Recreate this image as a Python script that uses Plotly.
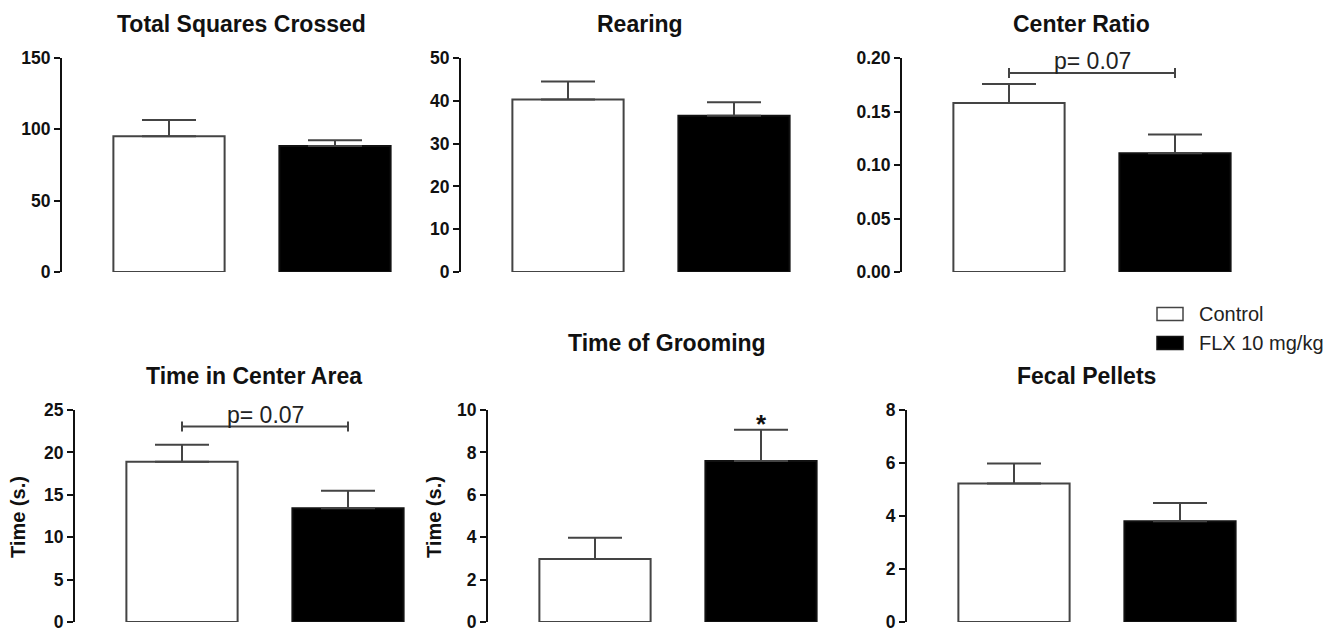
import plotly.graph_objects as go

# ---------------- data ----------------
titles = ["Total Squares Crossed", "Rearing", "Center Ratio",
          "Time in Center Area", "Time of Grooming", "Fecal Pellets"]
groups = ["Control", "FLX 10 mg/kg"]
control_mean = [95.1, 40.3, 0.158, 18.9, 2.97, 5.23]
control_sem = [11.4, 4.2, 0.0178, 2.0, 1.0, 0.75]
flx_mean = [88.3, 36.5, 0.111, 13.4, 7.6, 3.80]
flx_sem = [4.0, 3.15, 0.0175, 2.07, 1.47, 0.69]
y_max = [150, 50, 0.20, 25, 10, 8]
y_dtick = [50, 10, 0.05, 5, 2, 2]
y_format = ["", "", ".2f", "", "", ""]
y_titles = ["", "", "", "Time (s.)", "Time (s.)", ""]
sig_panels = [2, 3]
sig_labels = ["p= 0.07", "p= 0.07"]
sig_levels = [0.186, 23.05]
star_panels = [4]
star_labels = ["*"]

# ---------------- layout geometry (pixels) ----------------
W, H = 1336, 634
FONT = "Liberation Sans, Arial, Helvetica, sans-serif"
axis_px = [62, 461, 902, 75, 488, 907]
row_top = [58, 58, 58, 410, 410, 410]
row_bot = [272, 272, 272, 622, 622, 622]
title_y = [24, 24, 24, 376, 343, 376]
ylab_x = [0, 0, 0, 18, 434, 0]
ylab_y = 517
SPACING, OFFSET, RIGHT = 166, 107, 80
BAR_W = 0.67


def px(x):
    return x / W


def py(y):
    return 1 - y / H


fig = go.Figure()
annotations = []
shapes = []

for i in range(6):
    xa = "x" if i == 0 else f"x{i+1}"
    ya = "y" if i == 0 else f"y{i+1}"
    xkey = "xaxis" if i == 0 else f"xaxis{i+1}"
    ykey = "yaxis" if i == 0 else f"yaxis{i+1}"
    fig.add_trace(go.Bar(
        x=[0, 1], y=[control_mean[i], flx_mean[i]],
        width=BAR_W, xaxis=xa, yaxis=ya,
        marker=dict(color=["white", "black"],
                    line=dict(color=["#444444", "#111111"], width=2)),
        error_y=dict(type="data", symmetric=False,
                     array=[control_sem[i], flx_sem[i]], arrayminus=[0, 0],
                     width=27, thickness=2, color="#444444"),
        cliponaxis=False, showlegend=False, hoverinfo="y",
    ))
    a0 = axis_px[i]
    a1 = a0 + OFFSET + SPACING + RIGHT
    fig.layout[xkey] = dict(domain=[px(a0), px(a1)],
                            range=[-OFFSET / SPACING, 1 + RIGHT / SPACING],
                            visible=False, anchor=ya, fixedrange=True,
                            automargin=False)
    fig.layout[ykey] = dict(domain=[py(row_bot[i]), py(row_top[i])],
                            range=[0, y_max[i]], dtick=y_dtick[i], tick0=0,
                            tickformat=y_format[i], anchor=xa,
                            showline=True, linecolor="#111111", linewidth=2,
                            ticks="outside", ticklen=6, tickwidth=2,
                            tickcolor="#111111", showgrid=False, zeroline=False,
                            tickfont=dict(family=FONT, size=17.5, color="#111111",
                                          weight="bold"),
                            ticklabeloverflow="allow",
                            fixedrange=True, automargin=False)
    annotations.append(dict(text=titles[i], xref="paper", yref="paper",
                            x=px(a0 + 179), y=py(title_y[i]),
                            xanchor="center", yanchor="middle", showarrow=False,
                            font=dict(family=FONT, size=23, color="#111111",
                                      weight="bold")))
    if y_titles[i]:
        annotations.append(dict(text=y_titles[i], xref="paper", yref="paper",
                                x=px(ylab_x[i]), y=py(ylab_y), textangle=-90,
                                xanchor="center", yanchor="middle",
                                showarrow=False,
                                font=dict(family=FONT, size=20, color="#111111",
                                          weight="bold")))

for k, i in enumerate(sig_panels):
    xa = "x" if i == 0 else f"x{i+1}"
    ya = "y" if i == 0 else f"y{i+1}"
    lvl = sig_levels[k]
    shapes.append(dict(type="line", xref=xa, yref=ya, x0=0, x1=1, y0=lvl, y1=lvl,
                       line=dict(color="#444444", width=2)))
    for xe in (0, 1):
        shapes.append(dict(type="line", xref=xa, yref=ya, x0=xe, x1=xe,
                           ysizemode="pixel", yanchor=lvl, y0=-5, y1=5,
                           line=dict(color="#444444", width=2)))
    annotations.append(dict(text=sig_labels[k], xref=xa, yref=ya, x=0.5, y=lvl,
                            xanchor="center", yanchor="middle", yshift=12,
                            showarrow=False,
                            font=dict(family=FONT, size=23, color="#222222")))

for k, i in enumerate(star_panels):
    xa = "x" if i == 0 else f"x{i+1}"
    ya = "y" if i == 0 else f"y{i+1}"
    annotations.append(dict(text=star_labels[k], xref=xa, yref=ya, x=1,
                            y=flx_mean[i] + flx_sem[i],
                            xanchor="center", yanchor="middle", yshift=6,
                            showarrow=False,
                            font=dict(family=FONT, size=26, color="#111111",
                                      weight="bold")))

# legend drawn as boxes + text
leg_y = [314, 343]
leg_fill = ["white", "black"]
leg_line = ["#444444", "#111111"]
for k, g in enumerate(groups):
    shapes.append(dict(type="rect", xref="paper", yref="paper",
                       x0=px(1157), x1=px(1183),
                       y0=py(leg_y[k] + 6.5), y1=py(leg_y[k] - 6.5),
                       fillcolor=leg_fill[k], line=dict(color=leg_line[k], width=1.5)))
    annotations.append(dict(text=g, xref="paper", yref="paper",
                            x=px(1197), y=py(leg_y[k]), xanchor="left",
                            yanchor="middle", showarrow=False,
                            font=dict(family=FONT, size=20, color="#222222")))

fig.update_layout(width=W, height=H,
                  margin=dict(l=0, r=0, t=0, b=0, pad=0, autoexpand=False),
                  paper_bgcolor="white", plot_bgcolor="white",
                  annotations=annotations, shapes=shapes, showlegend=False,
                  font=dict(family=FONT))

fig.write_html("out.html", config={"displayModeBar": False},
               post_script="document.body.style.margin='0px';"
                           "document.body.style.overflow='hidden';")
